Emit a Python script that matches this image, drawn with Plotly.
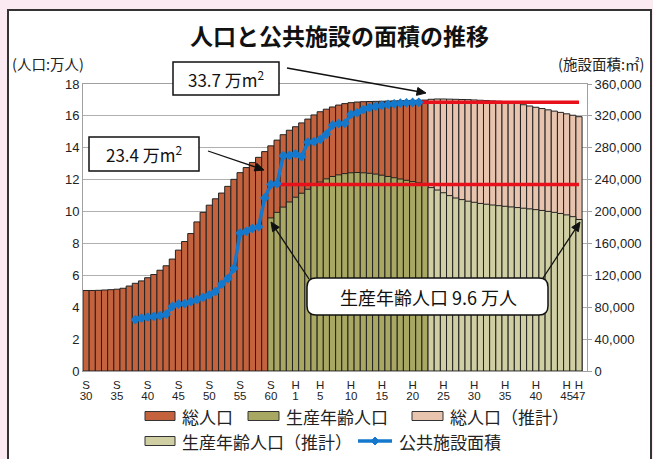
import math
import plotly.graph_objects as go

# ---------------- data ----------------
years_actual = list(range(1955, 2011))
total_actual = [5.05, 5.05, 5.06, 5.08, 5.10, 5.13,
                5.19, 5.33, 5.50, 5.65, 5.85, 6.05, 6.32, 6.60, 7.02, 7.58,
                8.12, 8.62, 9.35, 9.95, 10.40, 10.80, 11.16, 11.58, 12.02, 12.44,
                12.76, 13.08, 13.40, 13.76, 14.12, 14.48, 14.82, 15.10, 15.32, 15.56,
                15.80, 16.06, 16.26, 16.42, 16.56, 16.68, 16.77, 16.83, 16.87, 16.89,
                16.90, 16.91, 16.92, 16.93, 16.94, 16.95, 16.96, 16.97, 16.98, 16.99]
years_est = list(range(2011, 2036))
total_est = [17.04, 17.06, 17.06, 17.05, 17.04, 17.03, 17.02, 17.00, 16.98, 16.96,
             16.94, 16.92, 16.89, 16.85, 16.78, 16.70, 16.62, 16.54, 16.46, 16.38,
             16.30, 16.22, 16.13, 16.04, 15.95]
years_prod = list(range(1985, 2011))
prod_actual = [9.60, 9.95, 10.28, 10.60, 10.90, 11.15, 11.40, 11.65, 11.85, 12.05,
               12.20, 12.30, 12.38, 12.43, 12.45, 12.43, 12.40, 12.35, 12.28, 12.20,
               12.12, 12.04, 11.96, 11.88, 11.80, 11.70]
prod_est = [11.50, 11.35, 11.18, 11.00, 10.85, 10.75, 10.65, 10.58, 10.51, 10.46,
            10.41, 10.37, 10.33, 10.29, 10.25, 10.21, 10.17, 10.12, 10.07, 10.01,
            9.95, 9.88, 9.79, 9.68, 9.50]
years_area = list(range(1963, 2010))
area = [64400, 66400, 67600, 68600, 69600, 71200, 81000, 84000,
        84400, 87000, 89600, 92400, 95600, 99600, 109000, 116000, 128800, 173000,
        175000, 179000, 181000, 217000, 234000, 235000, 270000, 270400, 272400, 269000,
        287000, 287600, 290400, 297000, 308400, 310400, 310600, 322000, 324000, 328000,
        330400, 332000, 333200, 334400, 335200, 336000, 336400, 336800, 337000]
ref_low_years = [1985, 2035]
ref_low = [234000, 234000]
ref_high_years = [2009, 2035]
ref_high = [337000, 337000]

tick_years = [1955, 1960, 1965, 1970, 1975, 1980, 1985, 1989, 1993, 1998,
              2003, 2008, 2013, 2018, 2023, 2028, 2033, 2035]
tick_era = ['S'] * 7 + ['H'] * 11
tick_num = ['30', '35', '40', '45', '50', '55', '60', '1', '5', '10',
            '15', '20', '25', '30', '35', '40', '45', '47']
y_left_ticks = list(range(0, 19, 2))
y_right_ticks = list(range(0, 360001, 40000))

names = ['総人口', '生産年齢人口', '総人口（推計）', '生産年齢人口（推計）', '公共施設面積']
colors = ['#C4623E', '#A8A862', '#E8C3AE', '#CFCFA3', '#1478CC']
RED = '#E8101A'
PINK = '#FCEAF2'
JP = 'Noto Sans CJK JP'
NUM = 'Liberation Sans'

# ---------------- geometry helpers (pixel -> paper) ----------------
W, H = 653, 459
L, R, T, B = 83, 587, 84, 371


def px(x):
    return (x - L) / (R - L)


def py(y):
    return (B - y) / (B - T)


bar_line = dict(color='#222222', width=1)
fig = go.Figure()
fig.add_trace(go.Bar(x=years_actual, y=total_actual, width=1, name=names[0],
                     marker=dict(color=colors[0], line=bar_line)))
fig.add_trace(go.Bar(x=years_est, y=total_est, width=1, name=names[2],
                     marker=dict(color=colors[2], line=bar_line)))
fig.add_trace(go.Bar(x=years_prod, y=prod_actual, width=1, name=names[1],
                     marker=dict(color=colors[1], line=bar_line)))
fig.add_trace(go.Bar(x=years_est, y=prod_est, width=1, name=names[3],
                     marker=dict(color=colors[3], line=bar_line)))
fig.add_trace(go.Scatter(x=ref_low_years, y=ref_low, yaxis='y2', mode='lines',
                         line=dict(color=RED, width=3.5), showlegend=False))
fig.add_trace(go.Scatter(x=ref_high_years, y=ref_high, yaxis='y2', mode='lines',
                         line=dict(color=RED, width=3.5), showlegend=False))
fig.add_trace(go.Scatter(x=years_area, y=area, yaxis='y2', mode='lines+markers',
                         name=names[4], line=dict(color=colors[4], width=3.5),
                         marker=dict(symbol='diamond', size=7.5, color=colors[4])))
# carrier for second row of x tick labels
fig.add_trace(go.Scatter(x=[tick_years[0]], y=[0], xaxis='x2', mode='markers',
                         marker=dict(opacity=0), showlegend=False, hoverinfo='skip'))

xr = [1954.5, 2036.3]
fig.update_layout(
    width=W, height=H,
    margin=dict(l=L, r=W - R, t=T, b=H - B, pad=0, autoexpand=False),
    paper_bgcolor=PINK,
    plot_bgcolor='rgba(0,0,0,0)',
    barmode='overlay',
    showlegend=False,
    xaxis=dict(range=xr, tickvals=tick_years, ticktext=tick_era, ticks='',
               tickangle=0, automargin=False,
               showgrid=False, showline=True, linecolor='#A0A0A0', mirror=True,
               tickfont=dict(family=NUM, size=11.5, color='#222'), ticklabelstandoff=3),
    xaxis2=dict(range=xr, overlaying='x', anchor='y', side='bottom',
                tickvals=tick_years, ticktext=tick_num, ticks='', showgrid=False,
                tickangle=0, automargin=False,
                showline=False, zeroline=False,
                tickfont=dict(family=NUM, size=11.5, color='#222'), ticklabelstandoff=16),
    yaxis=dict(range=[0, 18], tickvals=y_left_ticks, ticks='', showgrid=True,
               automargin=False,
               gridcolor='#B0B0B0', gridwidth=1, showline=True, linecolor='#A0A0A0',
               mirror=True, zeroline=False,
               tickfont=dict(family=NUM, size=13, color='#222')),
    yaxis2=dict(range=[0, 360000], tickvals=y_right_ticks, tickformat=',',
                overlaying='y', side='right', showgrid=False, zeroline=False,
                automargin=False,
                ticks='outside', ticklen=4, tickcolor='#A0A0A0',
                tickfont=dict(family=NUM, size=13, color='#222')),
)

shapes = []
# white frame
shapes.append(dict(type='rect', xref='paper', yref='paper', layer='below',
                   x0=px(8), x1=px(651), y0=py(478), y1=py(10),
                   fillcolor='white', line=dict(color='#333333', width=2)))
# boxes for callouts
shapes.append(dict(type='rect', xref='paper', yref='paper', layer='above',
                   x0=px(173), x1=px(279), y0=py(95), y1=py(62),
                   fillcolor='white', line=dict(color='#111', width=1.5)))
shapes.append(dict(type='rect', xref='paper', yref='paper', layer='above',
                   x0=px(89), x1=px(199), y0=py(171), y1=py(137),
                   fillcolor='white', line=dict(color='#111', width=1.5)))
# rounded box
x0, x1, y0, y1, r = 307, 548, 278, 315, 9
pts = [('M', x0 + r, y0), ('L', x1 - r, y0), ('Q', x1, y0, x1, y0 + r),
       ('L', x1, y1 - r), ('Q', x1, y1, x1 - r, y1), ('L', x0 + r, y1),
       ('Q', x0, y1, x0, y1 - r), ('L', x0, y0 + r), ('Q', x0, y0, x0 + r, y0)]
path = ''
for p in pts:
    cmd = p[0]
    coords = p[1:]
    segs = []
    for i in range(0, len(coords), 2):
        segs.append(f'{px(coords[i]):.5f},{py(coords[i + 1]):.5f}')
    path += cmd + ' ' + ' '.join(segs) + ' '
path += 'Z'
shapes.append(dict(type='path', xref='paper', yref='paper', layer='above', path=path,
                   fillcolor='white', line=dict(color='#111', width=1.5)))

# arrows drawn as shapes (tail -> tip, in pixels)
for (tx, ty), (hx, hy) in [((287, 68), (426, 93)), ((208, 151), (264, 170)),
                           ((309, 279), (271, 222)), ((543, 278), (580, 222))]:
    dx, dy = hx - tx, hy - ty
    ln = math.hypot(dx, dy)
    ux, uy = dx / ln, dy / ln
    hl, hw = 9, 4
    bx, by = hx - ux * hl, hy - uy * hl
    shapes.append(dict(type='line', xref='paper', yref='paper', layer='above',
                       x0=px(tx), y0=py(ty), x1=px(bx + ux * 2), y1=py(by + uy * 2),
                       line=dict(color='#111', width=1.3)))
    p1 = (bx - uy * hw, by + ux * hw)
    p2 = (bx + uy * hw, by - ux * hw)
    apath = (f'M {px(hx):.5f},{py(hy):.5f} L {px(p1[0]):.5f},{py(p1[1]):.5f} '
             f'L {px(p2[0]):.5f},{py(p2[1]):.5f} Z')
    shapes.append(dict(type='path', xref='paper', yref='paper', layer='above',
                       path=apath, fillcolor='#111', line=dict(color='#111', width=1)))

# custom legend
legend_rows = [(145, 175, 416, 0), (248, 279, 416, 1), (412, 443, 416, 2),
               (145, 175, 441, 3), (358, 392, 441, 4)]
annotations = []
for sx0, sx1, sy, idx in legend_rows:
    if idx < 4:
        shapes.append(dict(type='rect', xref='paper', yref='paper', layer='above',
                           x0=px(sx0), x1=px(sx1), y0=py(sy + 4.5), y1=py(sy - 4.5),
                           fillcolor=colors[idx], line=dict(color='#333', width=1)))
    else:
        shapes.append(dict(type='line', xref='paper', yref='paper', layer='above',
                           x0=px(sx0), x1=px(sx1), y0=py(sy), y1=py(sy),
                           line=dict(color=colors[idx], width=3.5)))
        cx = (sx0 + sx1) / 2
        d = 4
        dpath = (f'M {px(cx - d):.5f},{py(sy):.5f} L {px(cx):.5f},{py(sy - d):.5f} '
                 f'L {px(cx + d):.5f},{py(sy):.5f} L {px(cx):.5f},{py(sy + d):.5f} Z')
        shapes.append(dict(type='path', xref='paper', yref='paper', layer='above',
                           path=dpath, fillcolor=colors[idx],
                           line=dict(color=colors[idx], width=1)))
    annotations.append(dict(xref='paper', yref='paper', x=px(sx1 + 5), y=py(sy),
                            xanchor='left', yanchor='middle', showarrow=False,
                            text=names[idx],
                            font=dict(family=JP, size=17, color='#222')))

# title and axis captions
annotations.append(dict(xref='paper', yref='paper', x=px(339), y=py(35),
                        xanchor='center', yanchor='middle', showarrow=False,
                        text='<b>人口と公共施設の面積の推移</b>',
                        font=dict(family=JP, size=23, color='#111')))
annotations.append(dict(xref='paper', yref='paper', x=px(10), y=py(64),
                        xanchor='left', yanchor='middle', showarrow=False,
                        text='(人口:万人)', font=dict(family=JP, size=14.5, color='#222')))
annotations.append(dict(xref='paper', yref='paper', x=px(646), y=py(64),
                        xanchor='right', yanchor='middle', showarrow=False,
                        text='(施設面積:㎡)', font=dict(family=JP, size=14.5, color='#222')))
# callout texts
annotations.append(dict(xref='paper', yref='paper', x=px(226), y=py(79),
                        xanchor='center', yanchor='middle', showarrow=False,
                        text='33.7 万m<sup>2</sup>', font=dict(family=JP, size=17, color='#111')))
annotations.append(dict(xref='paper', yref='paper', x=px(144), y=py(154),
                        xanchor='center', yanchor='middle', showarrow=False,
                        text='23.4 万m<sup>2</sup>', font=dict(family=JP, size=17, color='#111')))
annotations.append(dict(xref='paper', yref='paper', x=px(428), y=py(297),
                        xanchor='center', yanchor='middle', showarrow=False,
                        text='生産年齢人口 9.6 万人', font=dict(family=JP, size=18, color='#111')))

fig.update_layout(shapes=shapes, annotations=annotations)
fig.write_html('out.html', config={'displayModeBar': False},
               post_script=f"document.body.style.margin='0px';"
                           f"document.body.style.background='{PINK}';")
